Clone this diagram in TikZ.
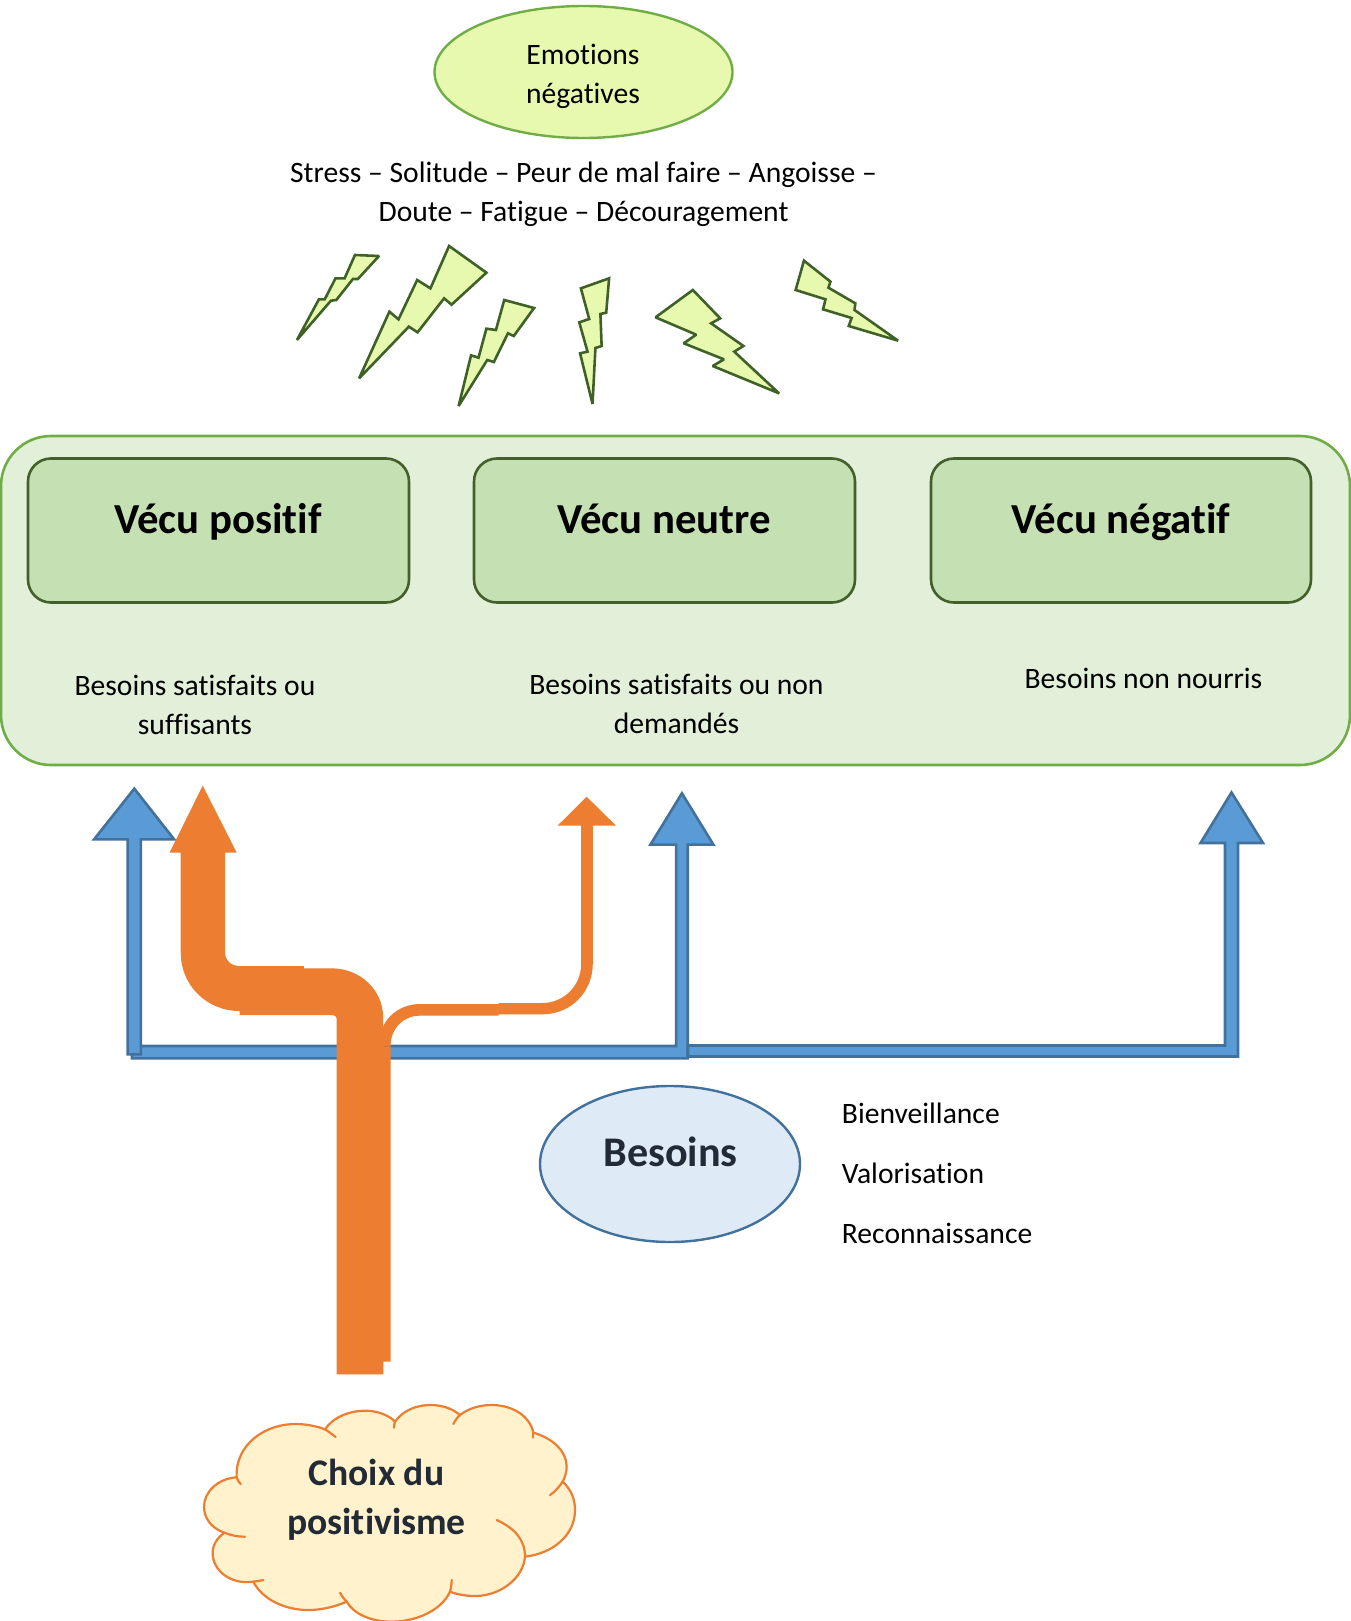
\documentclass[tikz,border=0pt]{standalone}
\usepackage{fontspec}
\usetikzlibrary{shapes.geometric}
\setmainfont[Ligatures=NoCommon]{Carlito}
\definecolor{lime}{HTML}{E6F9AF}
\definecolor{limeedge}{HTML}{3F6128}
\definecolor{ellimeedge}{HTML}{70AD47}
\definecolor{panelfill}{HTML}{E2EFD9}
\definecolor{boxfill}{HTML}{C5E0B3}
\definecolor{boxedge}{HTML}{435F2A}
\definecolor{blueA}{HTML}{5B9BD5}
\definecolor{blueedge}{HTML}{41719C}
\definecolor{orangeA}{HTML}{ED7D31}
\definecolor{needfill}{HTML}{DEEAF6}
\definecolor{cloudfill}{HTML}{FFF2CC}
\definecolor{dark}{HTML}{222A35}
\tikzset{
  x=0.5pt,y=-0.5pt,
  label text/.style={inner sep=0pt,align=center,font=\fontsize{14.8}{19.5}\selectfont,text=black},
  big text/.style={inner sep=0pt,anchor=base,font=\fontsize{21.4}{25}\selectfont\bfseries},
  cloud text/.style={inner sep=0pt,align=center,font=\fontsize{18.8}{24.5}\selectfont\bfseries,text=dark},
  vecu box/.style={rounded corners=11.5pt,draw=boxedge,fill=boxfill,line width=1.3pt},
  bolt/.style={draw=limeedge,fill=lime,line width=1.3pt,line join=miter,miter limit=2},
  blue arrow/.style={draw=blueedge,fill=blueA,line width=1.3pt,line join=miter},
  orange arrow/.style={fill=orangeA,draw=none},
  cloud line/.style={draw=orangeA,line width=1.1pt,line cap=round},
}
\begin{document}
\begin{tikzpicture}
\useasboundingbox (0,0) rectangle (1350,1621);
% Emotions
\node[ellipse,draw=ellimeedge,fill=lime,line width=1.2pt,minimum width=149pt,minimum height=66pt,inner sep=0pt] (emo) at (583.5,72) {};
\node[label text] (emotxt) at (583,76.5) {Emotions\\négatives};
\node[label text] (stress) at (583.5,194.5) {Stress – Solitude – Peur de mal faire – Angoisse –\\Doute – Fatigue – Découragement};
% bolts
\begin{scope}[shift={(270,230)},x=0.20727pt,y=-0.16667pt]
\draw[bolt] (65,330)--(118,208)--(132,208)--(158,145)--(180,145)--(205,75)--(263,78)--(212,147)--(200,147)--(160,210)--(147,212)--cycle;
\draw[bolt] (215,445)--(288,245)--(310,268)--(355,150)--(387,175)--(432,48)--(522,128)--(438,224)--(420,205)--(356,307)--(335,290)--cycle;
\draw[bolt] (455,528)--(485,376)--(503,383)--(522,296)--(545,300)--(565,210)--(637,234)--(588,318)--(574,310)--(540,396)--(524,390)--cycle;
\draw[bolt] (778,522)--(748,370)--(766,365)--(746,277)--(770,267)--(750,175)--(818,145)--(811,248)--(797,252)--(800,348)--(785,354)--cycle;
\draw[bolt] (1228,490)--(1068,408)--(1095,388)--(998,340)--(1028,314)--(930,262)--(1020,180)--(1086,265)--(1064,280)--(1142,348)--(1120,365)--cycle;
\draw[bolt] (1515,332)--(1396,288)--(1403,264)--(1334,238)--(1340,208)--(1268,180)--(1288,92)--(1352,155)--(1347,173)--(1412,220)--(1410,240)--cycle;
\end{scope}
% panel
\draw[draw=ellimeedge,fill=panelfill,line width=1.3pt,rounded corners=25pt] (1,436) rectangle (1350,765);
\draw[vecu box] (28,458.5) rectangle (409,602.5);
\draw[vecu box] (474,458.5) rectangle (855,602.5);
\draw[vecu box] (931,458.5) rectangle (1311,602.5);
\node[big text] (vp) at (218,533) {Vécu positif};
\node[big text] (vn) at (664,533) {Vécu neutre};
\node[big text] (vg) at (1121,533) {Vécu négatif};
\node[label text] (bs1) at (195,705) {Besoins satisfaits ou\\suffisants};
\node[label text] (bs2) at (676.5,704) {Besoins satisfaits ou non\\demandés};
\node[label text] (bs3) at (1143.5,678) {Besoins non nourris};
% blue arrows
\begin{scope}[shift={(80,770)},x=0.20727pt,y=-0.16667pt]
\draw[blue arrow] (125,828)--(1438,828)--(1438,224)--(1376,224)--(1452,70)--(1528,224)--(1466,224)--(1466,865)--(125,865)--cycle;
\draw[blue arrow] (131,56)--(227,208)--(147,208)--(147,853)--(115,853)--(115,208)--(34,208)--cycle;
\end{scope}
\draw[blue arrow] (688,1045.5)--(1225,1045.5)--(1225,843)--(1200.5,843)--(1231.5,792.5)--(1263,843)--(1238,843)--(1238,1056.5)--(688,1056.5)--cycle;
% orange
\begin{scope}[shift={(80,770)},x=0.20727pt,y=-0.16667pt]
\fill[orange arrow] (1222,80)--(1293,167)--(1237,167)--(1237,580) .. controls (1237,665) and (1185,733) .. (1115,733)--(1010,733)--(1010,737)--(820,737) .. controls (780,737) and (749,775) .. (749,830)--(731,830)--(731,770) .. controls (745,730) and (780,702) .. (820,702)--(1010,702)--(1010,699)--(1115,699) .. controls (1165,699) and (1209,650) .. (1209,580)--(1209,167)--(1152,167)--cycle;
\fill[orange arrow] (296,47)--(378,248)--(350,248)--(350,548) .. controls (350,572) and (365,588) .. (385,588)--(540,588)--(540,595)--(608,595) .. controls (675,595) and (731,660) .. (731,740)--(731,830)--(749,830)--(749,1775)--(731.6,1775)--(731.6,1813)--(619,1813)--(619,745) .. controls (619,739) and (614,735) .. (608,735)--(385,735)--(385,723) .. controls (305,723) and (243,645) .. (243,548)--(243,248)--(216,248)--cycle;
\end{scope}
% besoins
\node[ellipse,draw=blueedge,fill=needfill,line width=1.2pt,minimum width=130pt,minimum height=78pt,inner sep=0pt] (needs) at (670,1164) {};
\node[big text,text=dark,font=\fontsize{21.1}{25}\selectfont\bfseries] (bes) at (670.5,1166) {Besoins};
\node[label text,anchor=west] (l1) at (841.5,1113.5) {Bienveillance};
\node[label text,anchor=west] (l2) at (841.5,1173.5) {Valorisation};
\node[label text,anchor=west] (l3) at (841.5,1233.5) {Reconnaissance};
% cloud
\begin{scope}[shift={(190,1340)},x=0.16667pt,y=-0.16667pt]
\draw[cloud line,fill=cloudfill] (140,412) .. controls (135,310) and (230,250) .. (320,252) .. controls (350,252) and (385,260) .. (405,268) .. controls (430,230) and (480,212) .. (525,212) .. controls (565,212) and (600,228) .. (615,245) .. controls (640,210) and (680,195) .. (722,195) .. controls (760,195) and (790,208) .. (810,225) .. controls (835,205) and (870,195) .. (905,195) .. controls (970,195) and (1020,230) .. (1030,278) .. controls (1090,295) and (1130,335) .. (1130,380) .. controls (1130,395) and (1125,412) .. (1118,425) .. controls (1145,450) and (1155,480) .. (1155,510) .. controls (1155,585) and (1090,640) .. (1005,650) .. controls (1000,715) and (930,768) .. (855,768) .. controls (828,768) and (800,763) .. (780,755) .. controls (755,810) and (680,845) .. (605,845) .. controls (540,845) and (490,820) .. (470,785) .. controls (435,800) and (395,810) .. (355,810) .. controls (280,810) and (215,775) .. (190,725) .. controls (120,735) and (68,690) .. (68,640) .. controls (68,615) and (80,595) .. (103,578) .. controls (65,565) and (42,535) .. (42,500) .. controls (42,455) and (85,415) .. (140,412) -- cycle;
\draw[cloud line] (140,412) .. controls (142,420) and (147,427) .. (152,432);
\draw[cloud line] (103,578) .. controls (120,585) and (140,590) .. (165,590);
\draw[cloud line] (190,725) .. controls (200,724) and (210,722) .. (220,720);
\draw[cloud line] (470,785) .. controls (462,777) and (455,768) .. (450,758);
\draw[cloud line] (780,755) .. controls (783,744) and (785,732) .. (785,720);
\draw[cloud line] (1005,650) .. controls (1005,600) and (975,565) .. (920,540);
\draw[cloud line] (1118,425) .. controls (1108,440) and (1095,455) .. (1080,465);
\draw[cloud line] (1030,278) .. controls (1031,283) and (1031,288) .. (1030,293);
\draw[cloud line] (810,225) .. controls (802,232) and (795,242) .. (790,252);
\draw[cloud line] (615,245) .. controls (613,251) and (612,257) .. (612,263);
\draw[cloud line] (405,268) .. controls (416,275) and (427,283) .. (437,291);
\end{scope}
\node[cloud text] (cho) at (376.5,1500) {Choix du\\positivisme};
\end{tikzpicture}
\end{document}
